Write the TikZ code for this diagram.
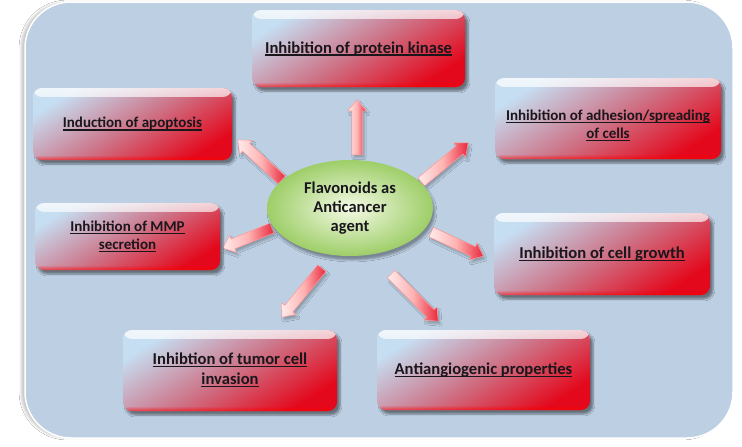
\documentclass[tikz,border=0pt]{standalone}
\usepackage{fontspec}
\setmainfont{Carlito}
\usetikzlibrary{shapes.arrows,shapes.geometric,shadows.blur,fadings,calc}
\definecolor{panelblue}{RGB}{188,207,227}
\definecolor{txt}{RGB}{25,22,28}
\definecolor{bUL}{RGB}{198,222,242}
\definecolor{bMid}{RGB}{205,118,138}
\definecolor{bLR}{RGB}{228,8,28}
\definecolor{gIn}{RGB}{244,250,230}
\definecolor{gOut}{RGB}{158,206,104}
\definecolor{arrR}{RGB}{232,40,60}
\newcommand\myul[1]{\setbox0=\hbox{#1}\leavevmode\rlap{\rule[-2.6pt]{\wd0}{1.2pt}}\box0}
\newcommand\twol[2]{\begin{tabular}{@{}c@{}}\myul{#1}\\\myul{#2}\end{tabular}}
\renewcommand\arraystretch{1.0}
\tikzset{
  box/.style={rounded corners=9pt, inner sep=2pt, text=txt,
    left color=bUL, right color=bLR, middle color=bMid, shading angle=32,
    blur shadow={shadow xshift=3pt, shadow yshift=-4pt, shadow opacity=45, shadow blur steps=6},
    font=\bfseries\fontsize{16.6}{19.5}\selectfont,
    path picture={
      \fill[white, opacity=0.75, path fading=south] (path picture bounding box.north west) rectangle ([yshift=-9pt]path picture bounding box.north east);
      \fill[red, opacity=0.6, path fading=north] ([yshift=5pt]path picture bounding box.south west) rectangle (path picture bounding box.south east);
    }},
  smallfont/.style={font=\bfseries\fontsize{15}{18}\selectfont},
  hub/.style={ellipse, inner sep=0pt, minimum width=166pt, minimum height=96pt,
    inner color=gIn, outer color=gOut, text=txt, align=center,
    font=\bfseries\fontsize{16.5}{19}\selectfont,
    blur shadow={shadow xshift=2pt, shadow yshift=-4pt, shadow opacity=35}},
  fatarr/.style={single arrow, single arrow head extend=4pt, single arrow head indent=0pt,
    single arrow tip angle=80, minimum width=18pt, inner xsep=0pt, inner ysep=5pt,
    left color=red!8!white, right color=arrR, middle color=red!30!white,
    draw=red!40, line width=0.5pt,
    blur shadow={shadow xshift=2pt, shadow yshift=-3pt, shadow opacity=25}}
}
\newcommand\fatarrow[2]{%
  \path let \p1=(#1), \p2=(#2), \n1={atan2(\y2-\y1,\x2-\x1)}, \n2={veclen(\x2-\x1,\y2-\y1)} in
    node[fatarr, name=arr-#1, minimum height=\n2, rotate=\n1, anchor=tail] at (\p1) {};}
\begin{document}
\begin{tikzpicture}[x=1pt,y=-1pt]
\useasboundingbox (0,0) rectangle (742,447);
\fill[white] (0,0) rectangle (742,447);
% panel
\path[fill=panelblue, draw=white, line width=1.5pt, rounded corners=46pt,
  blur shadow={shadow xshift=-4pt, shadow yshift=0pt, shadow opacity=20}] (25,2) rectangle (733,438);

% arrow end points
\coordinate (t1) at (357,155); \coordinate (h1) at (357,100);
\coordinate (t2) at (282,180); \coordinate (h2) at (238,140);
\coordinate (t3) at (421,182); \coordinate (h3) at (468,143);
\coordinate (t4) at (272,228); \coordinate (h4) at (223,248);
\coordinate (t5) at (431,232); \coordinate (h5) at (483,256);
\coordinate (t6) at (322,268); \coordinate (h6) at (282,317);
\coordinate (t7) at (391,274); \coordinate (h7) at (438,321);
\fatarrow{t1}{h1}
\fatarrow{t2}{h2}
\fatarrow{t3}{h3}
\fatarrow{t4}{h4}
\fatarrow{t5}{h5}
\fatarrow{t6}{h6}
\fatarrow{t7}{h7}

% hub
\node[hub] (hub) at (350,208) {Flavonoids as\\Anticancer\\agent};

% boxes
\node[box, minimum width=213pt, minimum height=77pt] (pk) at (358.5,48.5) {\myul{Inhibition of protein kinase}};
\node[box, smallfont, minimum width=199pt, minimum height=72pt] (apo) at (132.5,124) {\myul{Induction of apoptosis}};
\node[box, smallfont, minimum width=226pt, minimum height=81pt] (adh) at (608,118.5)
  {\raisebox{-7pt}[\height][\depth]{\twol{Inhibition of adhesion/spreading}{of cells}}};
\node[box, smallfont, minimum width=185pt, minimum height=67pt] (mmp) at (127.5,236.5) {\twol{Inhibition of MMP}{secretion}};
\node[box, minimum width=216pt, minimum height=82pt] (grow) at (602,254) {\myul{Inhibition of cell growth}};
\node[box, minimum width=214pt, minimum height=81pt] (tum) at (230,370.5) {\twol{Inhibtion of tumor cell}{invasion}};
\node[box, minimum width=213pt, minimum height=80pt] (ang) at (483.5,370) {\myul{Antiangiogenic properties}};
\end{tikzpicture}
\end{document}
